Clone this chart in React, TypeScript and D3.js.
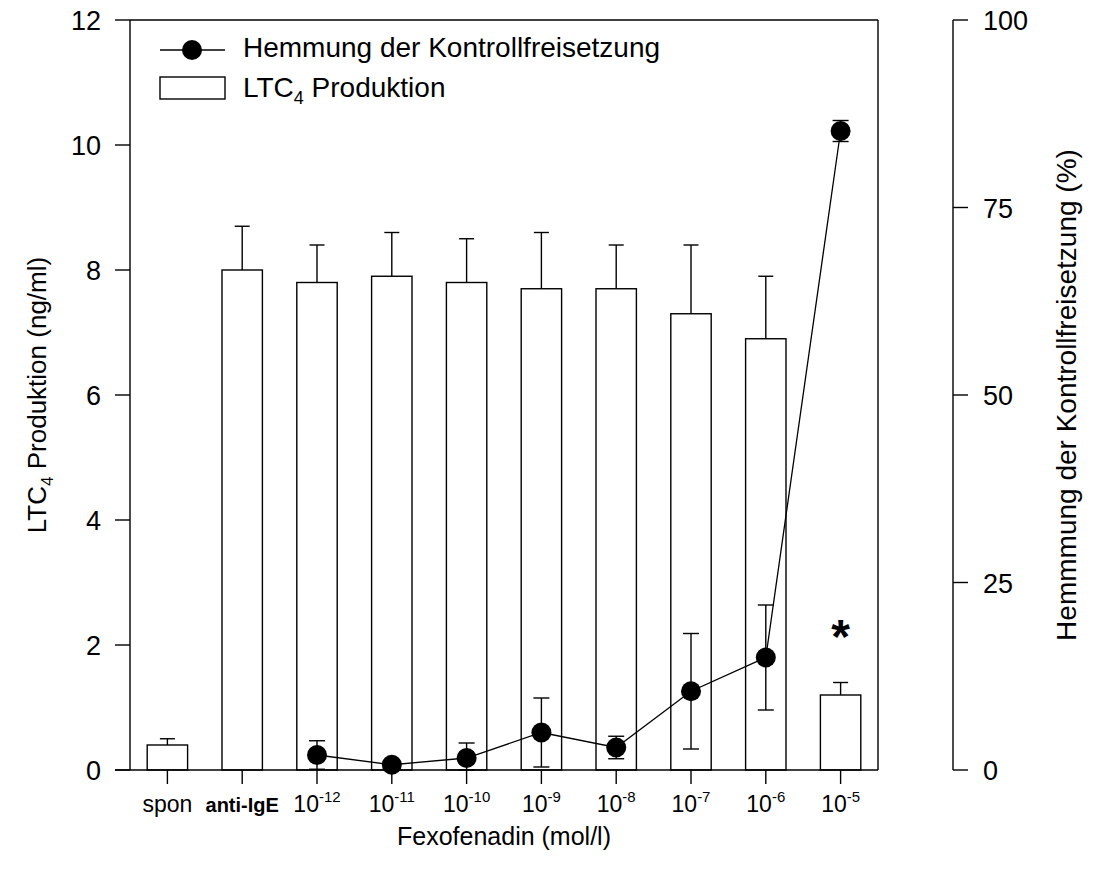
import React from 'react';
import * as d3 from 'd3';

// Fexofenadin concentration groups (plus controls)
const categories = ['spon', 'anti-IgE', '1e-12', '1e-11', '1e-10', '1e-9', '1e-8', '1e-7', '1e-6', '1e-5'];
const tickExponents: (string | null)[] = [null, null, '-12', '-11', '-10', '-9', '-8', '-7', '-6', '-5'];

// LTC4 production (ng/ml), mean and upper error
const ltc4Values = [0.4, 8.0, 7.8, 7.9, 7.8, 7.7, 7.7, 7.3, 6.9, 1.2];
const ltc4Errors = [0.1, 0.7, 0.6, 0.7, 0.7, 0.9, 0.7, 1.1, 1.0, 0.2];

// Inhibition of control release (%), mean and error
const inhibitionCategories = ['1e-12', '1e-11', '1e-10', '1e-9', '1e-8', '1e-7', '1e-6', '1e-5'];
const inhibitionValues = [2.0, 0.7, 1.6, 5.0, 3.0, 10.5, 15.0, 85.2];
const inhibitionErrors = [1.9, 0.6, 2.0, 4.6, 1.5, 7.7, 7.0, 1.4];

const leftTicks = [0, 2, 4, 6, 8, 10, 12];
const rightTicks = [0, 25, 50, 75, 100];

const FONT = 'Liberation Sans, Arial, Helvetica, sans-serif';

export default function App() {
  const W = 1093;
  const H = 876;
  const left = 130;
  const right = 878;
  const top = 20;
  const bottom = 770;
  const rightAxisX = 953;

  const x = d3.scaleBand<string>().domain(categories).range([left, right]).paddingInner(0.46).paddingOuter(0.23);
  const yL = d3.scaleLinear().domain([0, 12]).range([bottom, top]);
  const yR = d3.scaleLinear().domain([0, 100]).range([bottom, top]);
  const cx = (c: string) => (x(c) as number) + x.bandwidth() / 2;

  const linePath = d3
    .line<number>()
    .x((_, i) => cx(inhibitionCategories[i]))
    .y((d) => yR(d))(inhibitionValues) as string;

  const stroke = '#000';
  const cap = 7.5;

  return (
    <svg width={W} height={H} style={{ position: 'absolute', left: 0, top: 0, background: '#fff' }} fontFamily={FONT}>
      <rect x={0} y={0} width={W} height={H} fill="#fff" />

      {/* bars with upper error bars */}
      {categories.map((c, i) => (
        <g key={c}>
          <line x1={cx(c)} x2={cx(c)} y1={yL(ltc4Values[i])} y2={yL(ltc4Values[i] + ltc4Errors[i])} stroke={stroke} strokeWidth={1.4} />
          <line x1={cx(c) - cap} x2={cx(c) + cap} y1={yL(ltc4Values[i] + ltc4Errors[i])} y2={yL(ltc4Values[i] + ltc4Errors[i])} stroke={stroke} strokeWidth={1.4} />
          <rect x={x(c)} y={yL(ltc4Values[i])} width={x.bandwidth()} height={bottom - yL(ltc4Values[i])} fill="#fff" stroke={stroke} strokeWidth={1.4} />
        </g>
      ))}

      {/* inhibition error bars */}
      {inhibitionCategories.map((c, i) => {
        const hi = inhibitionValues[i] + inhibitionErrors[i];
        const lo = Math.max(0, inhibitionValues[i] - inhibitionErrors[i]);
        return (
          <g key={'e' + c}>
            <line x1={cx(c)} x2={cx(c)} y1={yR(lo)} y2={yR(hi)} stroke={stroke} strokeWidth={1.4} />
            <line x1={cx(c) - 8} x2={cx(c) + 8} y1={yR(hi)} y2={yR(hi)} stroke={stroke} strokeWidth={1.4} />
            <line x1={cx(c) - 8} x2={cx(c) + 8} y1={yR(lo)} y2={yR(lo)} stroke={stroke} strokeWidth={1.4} />
          </g>
        );
      })}

      <path d={linePath} fill="none" stroke={stroke} strokeWidth={1.3} />
      {inhibitionCategories.map((c, i) => (
        <circle key={'p' + c} cx={cx(c)} cy={yR(inhibitionValues[i])} r={10} fill="#000" />
      ))}

      {/* significance marker */}
      <text x={cx('1e-5')} y={653} textAnchor="middle" fontSize={48} fontWeight="bold">*</text>

      {/* frame */}
      <line x1={left} x2={right} y1={top} y2={top} stroke={stroke} strokeWidth={1.4} />
      <line x1={right} x2={right} y1={top} y2={bottom} stroke={stroke} strokeWidth={1.4} />
      <line x1={left} x2={left} y1={top} y2={bottom} stroke={stroke} strokeWidth={1.4} />
      <line x1={left - 15} x2={right} y1={bottom} y2={bottom} stroke={stroke} strokeWidth={1.4} />

      {/* left axis */}
      {leftTicks.map((t) => (
        <g key={'l' + t}>
          <line x1={left - 15} x2={left} y1={yL(t)} y2={yL(t)} stroke={stroke} strokeWidth={1.4} />
          <text x={left - 29} y={yL(t) + 10} textAnchor="end" fontSize={27}>{t}</text>
        </g>
      ))}
      <text transform={`translate(46,${(top + bottom) / 2}) rotate(-90)`} textAnchor="middle" fontSize={26}>
        LTC<tspan fontSize={17} dy={7}>4</tspan><tspan dy={-7}> Produktion (ng/ml)</tspan>
      </text>

      {/* right axis */}
      <line x1={rightAxisX} x2={rightAxisX} y1={top} y2={bottom} stroke={stroke} strokeWidth={1.4} />
      {rightTicks.map((t) => (
        <g key={'r' + t}>
          <line x1={rightAxisX} x2={rightAxisX + 15} y1={yR(t)} y2={yR(t)} stroke={stroke} strokeWidth={1.4} />
          <text x={rightAxisX + 30} y={yR(t) + 10} textAnchor="start" fontSize={27}>{t}</text>
        </g>
      ))}
      <text transform={`translate(1076,${(top + bottom) / 2}) rotate(-90)`} textAnchor="middle" fontSize={28}>
        Hemmmung der Kontrollfreisetzung (%)
      </text>

      {/* bottom axis */}
      {categories.map((c, i) => (
        <g key={'b' + c}>
          <line x1={cx(c)} x2={cx(c)} y1={bottom} y2={bottom + 14} stroke={stroke} strokeWidth={1.4} />
          {tickExponents[i] === null ? (
            <text x={cx(c)} y={812} textAnchor="middle" fontSize={c === 'spon' ? 23 : 20} fontWeight={c === 'anti-IgE' ? 'bold' : 'normal'}>
              {c}
            </text>
          ) : (
            <text x={cx(c)} y={812} textAnchor="middle" fontSize={23}>
              10<tspan fontSize={15} dy={-10}>{tickExponents[i]}</tspan>
            </text>
          )}
        </g>
      ))}
      <text x={(left + right) / 2} y={845} textAnchor="middle" fontSize={25}>Fexofenadin (mol/l)</text>

      {/* legend */}
      <line x1={160} x2={225} y1={50} y2={50} stroke={stroke} strokeWidth={1.3} />
      <circle cx={192} cy={50} r={10} fill="#000" />
      <text x={243} y={57} fontSize={28}>Hemmung der Kontrollfreisetzung</text>
      <rect x={160} y={77} width={65} height={22} fill="#fff" stroke={stroke} strokeWidth={1.4} />
      <text x={243} y={97} fontSize={28}>
        LTC<tspan fontSize={18} dy={7}>4</tspan><tspan dy={-7}> Produktion</tspan>
      </text>
    </svg>
  );
}
